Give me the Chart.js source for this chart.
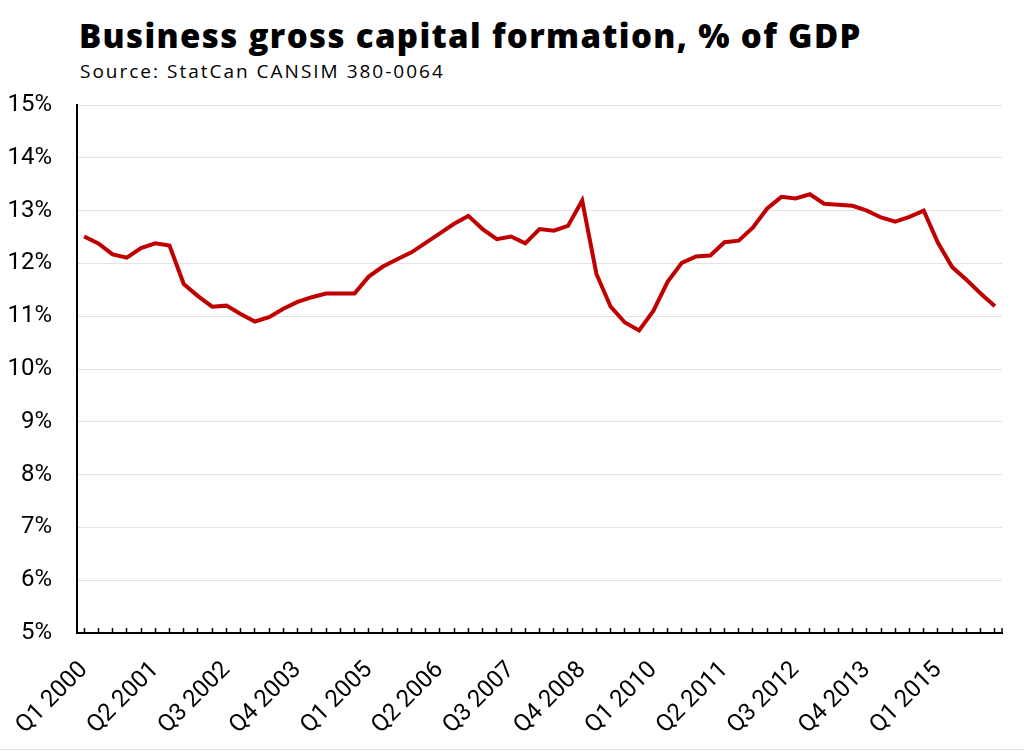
<!DOCTYPE html>
<html>
<head>
<meta charset="utf-8">
<script src="https://cdn.jsdelivr.net/npm/chart.js@4.4.1/dist/chart.umd.min.js"></script>
<style>
  html, body { margin: 0; padding: 0; background: #fff; }
  body { width: 1024px; height: 754px; position: relative; overflow: hidden; }
  #title { position: absolute; left: 79px; top: 19px; font-family: "Open Sans", sans-serif; font-weight: 800; font-size: 33px; line-height: 1; color: #000; white-space: nowrap; letter-spacing: 1.35px; }
  #subtitle { position: absolute; left: 80px; top: 62px; font-family: "Open Sans", sans-serif; font-weight: 400; font-size: 19px; line-height: 1; color: #000; white-space: nowrap; letter-spacing: 2px; }
  #wrap { position: absolute; left: 0; top: 82px; width: 1024px; height: 672px; }
  #bottomline { position: absolute; left: 0; top: 749px; width: 1024px; height: 1px; background: #e2e2e2; }
</style>
</head>
<body>
<div id="title">Business gross capital formation, % of GDP</div>
<div id="subtitle">Source: StatCan CANSIM 380-0064</div>
<div id="wrap"><canvas id="c"></canvas></div>
<div id="bottomline"></div>
<script>
const quarters = [
  "Q1 2000","Q2 2000","Q3 2000","Q4 2000",
  "Q1 2001","Q2 2001","Q3 2001","Q4 2001",
  "Q1 2002","Q2 2002","Q3 2002","Q4 2002",
  "Q1 2003","Q2 2003","Q3 2003","Q4 2003",
  "Q1 2004","Q2 2004","Q3 2004","Q4 2004",
  "Q1 2005","Q2 2005","Q3 2005","Q4 2005",
  "Q1 2006","Q2 2006","Q3 2006","Q4 2006",
  "Q1 2007","Q2 2007","Q3 2007","Q4 2007",
  "Q1 2008","Q2 2008","Q3 2008","Q4 2008",
  "Q1 2009","Q2 2009","Q3 2009","Q4 2009",
  "Q1 2010","Q2 2010","Q3 2010","Q4 2010",
  "Q1 2011","Q2 2011","Q3 2011","Q4 2011",
  "Q1 2012","Q2 2012","Q3 2012","Q4 2012",
  "Q1 2013","Q2 2013","Q3 2013","Q4 2013",
  "Q1 2014","Q2 2014","Q3 2014","Q4 2014",
  "Q1 2015","Q2 2015","Q3 2015","Q4 2015",
  "Q1 2016"
];
const capitalFormationPct = [
  12.51, 12.38, 12.17, 12.11,
  12.29, 12.38, 12.34, 11.61,
  11.38, 11.18, 11.20, 11.04,
  10.90, 10.98, 11.14, 11.27,
  11.36, 11.43, 11.43, 11.43,
  11.75, 11.94, 12.08, 12.21,
  12.39, 12.57, 12.75, 12.90,
  12.65, 12.46, 12.51, 12.38,
  12.65, 12.62, 12.71, 13.19,
  11.80, 11.18, 10.88, 10.73,
  11.10, 11.65, 12.01, 12.13,
  12.15, 12.40, 12.43, 12.68,
  13.04, 13.26, 13.23, 13.31,
  13.13, 13.11, 13.09, 13.00,
  12.87, 12.79, 12.88, 13.00,
  12.39, 11.93, 11.69, 11.43,
  11.19
];
const yTicks = [5, 6, 7, 8, 9, 10, 11, 12, 13, 14, 15];
const labelEvery = 5;

function clearPadding(scale) {
  scale.paddingLeft = 0; scale.paddingRight = 0;
  scale.paddingTop = 0; scale.paddingBottom = 0;
}

const axisEndMark = {
  id: 'axisEndMark',
  afterDraw(chart) {
    const a = chart.chartArea, ctx = chart.ctx;
    ctx.save();
    ctx.strokeStyle = '#000';
    ctx.lineWidth = 1.5;
    ctx.beginPath();
    ctx.moveTo(a.right, a.bottom);
    ctx.lineTo(a.right, a.bottom - 5);
    ctx.stroke();
    ctx.restore();
  }
};

new Chart(document.getElementById('c'), {
  type: 'line',
  data: {
    labels: quarters,
    datasets: [{
      data: capitalFormationPct,
      borderColor: '#c00000',
      borderWidth: 4,
      pointRadius: 0,
      tension: 0,
      fill: false
    }]
  },
  plugins: [axisEndMark],
  options: {
    responsive: true,
    maintainAspectRatio: false,
    animation: false,
    events: [],
    layout: { padding: { left: 0, right: 22, top: 23, bottom: 0 } },
    plugins: { legend: { display: false }, tooltip: { enabled: false }, title: { display: false } },
    scales: {
      x: {
        type: 'category',
        offset: true,
        afterFit: function(scale) { clearPadding(scale); scale.height = 121; },
        grid: { display: true, drawOnChartArea: false, drawTicks: true, tickLength: -5, tickColor: '#000', tickWidth: 1.5, offset: false },
        border: { display: true, color: '#000', width: 2 },
        ticks: {
          autoSkip: false,
          minRotation: 45,
          maxRotation: 45,
          padding: 28,
          color: '#000',
          font: { family: 'Roboto', size: 24 },
          callback: function(v, i) { return i % labelEvery === 0 ? quarters[i] : ''; }
        }
      },
      y: {
        min: yTicks[0],
        max: yTicks[yTicks.length - 1],
        afterBuildTicks: function(scale) { scale.ticks = yTicks.map(v => ({ value: v })); },
        afterFit: function(scale) { clearPadding(scale); scale.width = 77; },
        grid: { color: '#e3e3e3', lineWidth: 1, drawTicks: false },
        border: { display: true, color: '#000', width: 2 },
        ticks: {
          padding: 25,
          color: '#000',
          font: { family: 'Roboto', size: 24 },
          callback: function(v) { return v + '%'; }
        }
      }
    }
  }
});
</script>
</body>
</html>
